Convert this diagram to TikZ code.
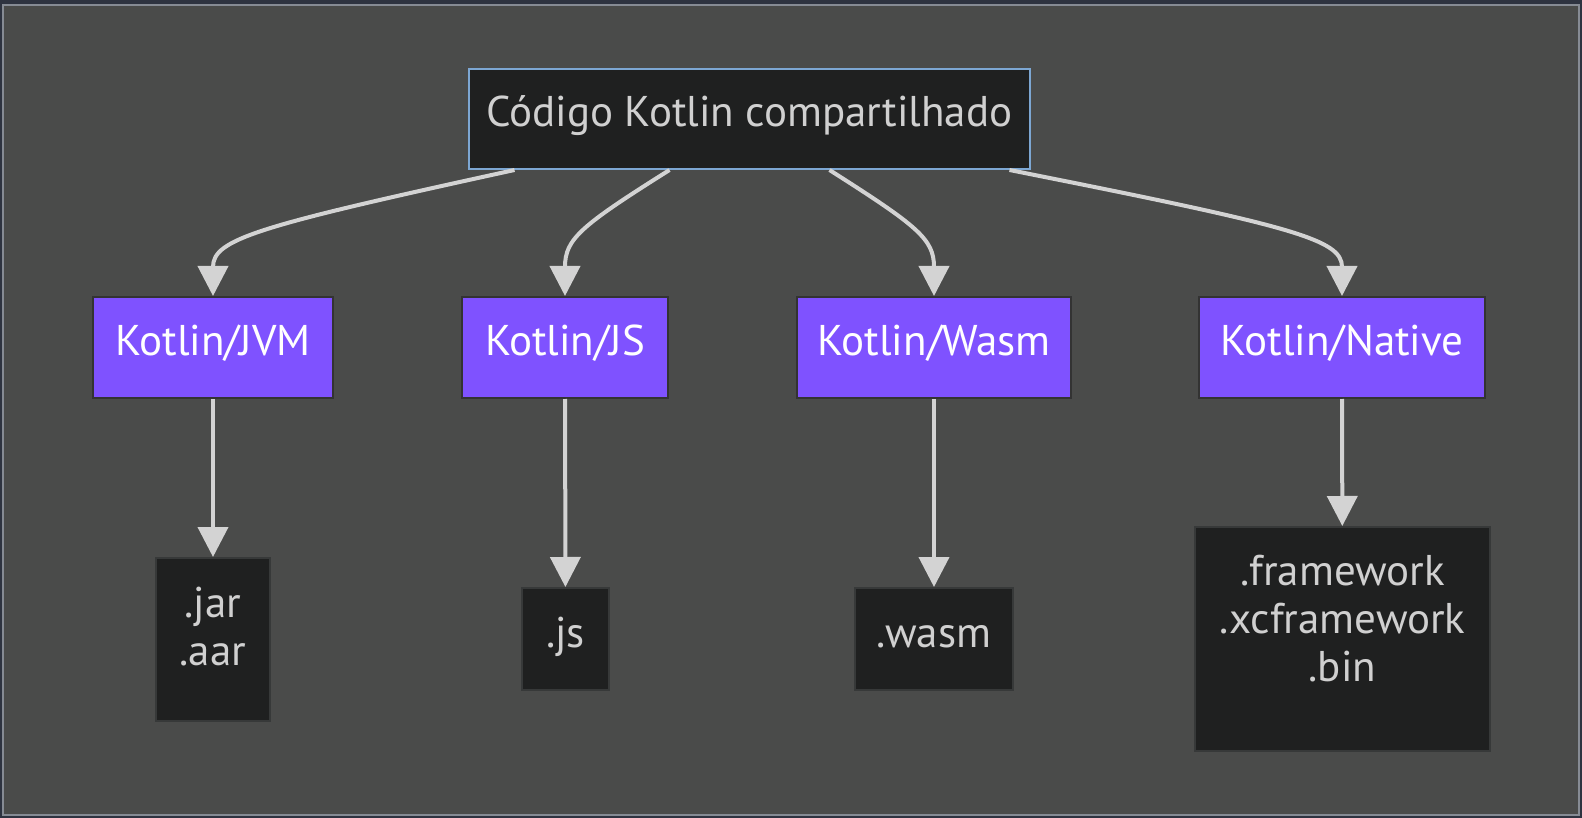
\documentclass[tikz,border=0pt]{standalone}
\usepackage{fontspec}
\setmainfont{PT Sans}
\usetikzlibrary{arrows.meta}
\definecolor{navy}{HTML}{2E3340}
\definecolor{canvas}{HTML}{4A4B4A}
\definecolor{frame}{HTML}{868B94}
\definecolor{boxbg}{HTML}{1F2020}
\definecolor{srcline}{HTML}{7DA7D3}
\definecolor{darkline}{HTML}{333333}
\definecolor{outline}{HTML}{373939}
\definecolor{kpurple}{HTML}{7F52FF}
\definecolor{lighttext}{HTML}{D0D0D0}
\definecolor{arrowgray}{HTML}{D3D3D3}
\begin{document}
\begin{tikzpicture}[x=1pt,y=-1pt,
  every node/.style={draw,rectangle,inner sep=0pt,line width=2pt,
    font=\fontsize{43}{48}\selectfont,text height=28pt,text depth=12pt},
  srcbox/.style={fill=boxbg,draw=srcline,text=lighttext},
  platform/.style={fill=kpurple,draw=darkline,text=white,minimum height=101pt},
  outbox/.style={fill=boxbg,draw=outline,text=lighttext},
  edge/.style={draw=arrowgray,line width=4pt,-{Triangle[length=30pt,width=30pt]}}
]
    \fill[navy] (0,0) rectangle (1582,818);
    \draw[fill=canvas,draw=frame,line width=2pt] (3,5) rectangle (1579,815);
    \node[srcbox,minimum width=561pt,minimum height=100pt] (src) at (749.5,119) {Código Kotlin compartilhado};
    \node[platform,minimum width=240pt] (jvm) at (213,347.5) {Kotlin/JVM};
    \node[platform,minimum width=206pt] (js) at (565,347.5) {Kotlin/JS};
    \node[platform,minimum width=274pt] (wasm) at (934,347.5) {Kotlin/Wasm};
    \node[platform,minimum width=286pt] (native) at (1342,347.5) {Kotlin/Native};
    \node[outbox,minimum width=114pt,minimum height=163pt,text depth=73pt] (jar) at (213,639.5)
      {\begin{tabular}[t]{@{}c@{}}.jar\\.aar\end{tabular}};
    \node[outbox,minimum width=87pt,minimum height=102pt] (jsout) at (565.5,639) {.js};
    \node[outbox,minimum width=158pt,minimum height=102pt] (wasmout) at (934,639) {.wasm};
    \node[outbox,minimum width=295pt,minimum height=224pt,text depth=136pt] (nativeout) at (1342.5,639)
      {\begin{tabular}[t]{@{}c@{}}.framework\\.xcframework\\.bin\end{tabular}};
    \draw[edge] ([xshift=-235pt]src.south) .. controls +(-257,56) and +(0,-57) .. (jvm.north);
    \draw[edge] ([xshift=-80pt]src.south) .. controls +(-89,56) and +(0,-57) .. (js.north);
    \draw[edge] ([xshift=80pt]src.south) .. controls +(88,56) and +(0,-57) .. (wasm.north);
    \draw[edge] ([xshift=260pt]src.south) .. controls +(282,56) and +(0,-57) .. (native.north);
    \draw[edge] (jvm) -- (jar);
    \draw[edge] (js) -- (jsout);
    \draw[edge] (wasm) -- (wasmout);
    \draw[edge] (native) -- (nativeout);
\end{tikzpicture}
\end{document}
